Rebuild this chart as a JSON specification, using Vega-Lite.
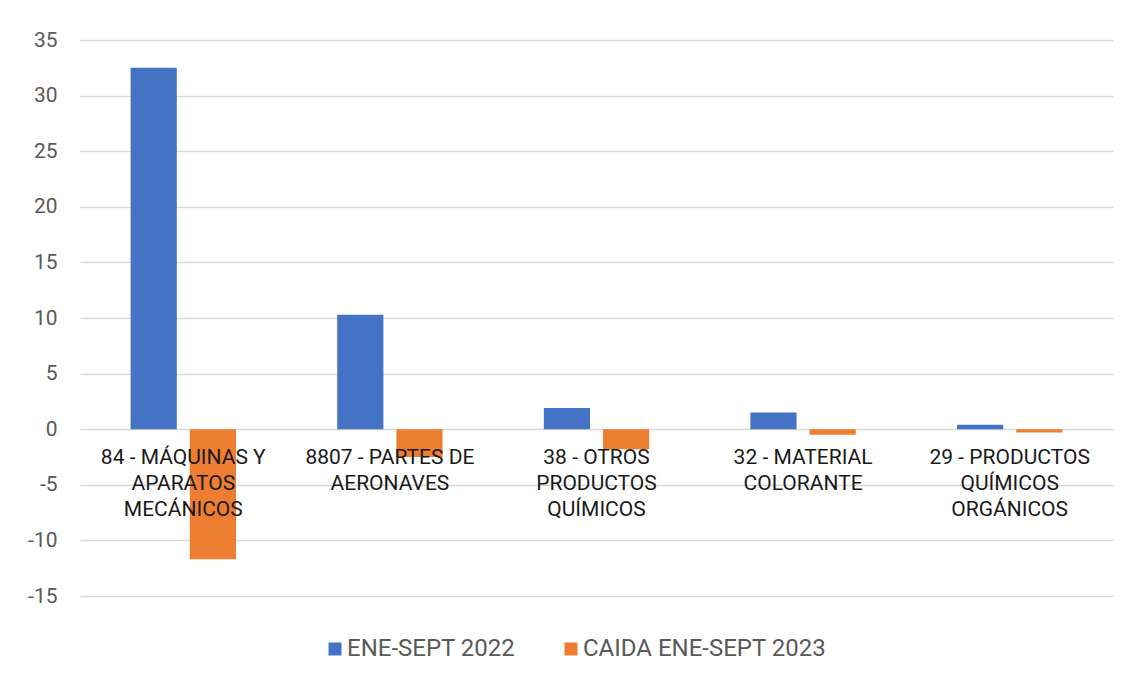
{
  "$schema": "https://vega.github.io/schema/vega-lite/v6.json",
  "width": 1033,
  "height": 556,
  "autosize": {"type": "none"},
  "padding": {"left": 80, "top": 40, "right": 18, "bottom": 81},
  "background": "white",
  "config": {"view": {"stroke": null}, "font": "Roboto"},
  "datasets": {
    "bars": [
      {"categoria": "84", "serie": "ENE-SEPT 2022", "valor": 32.5},
      {"categoria": "84", "serie": "CAIDA ENE-SEPT 2023", "valor": -11.7},
      {"categoria": "8807", "serie": "ENE-SEPT 2022", "valor": 10.3},
      {"categoria": "8807", "serie": "CAIDA ENE-SEPT 2023", "valor": -2.5},
      {"categoria": "38", "serie": "ENE-SEPT 2022", "valor": 1.9},
      {"categoria": "38", "serie": "CAIDA ENE-SEPT 2023", "valor": -1.8},
      {"categoria": "32", "serie": "ENE-SEPT 2022", "valor": 1.5},
      {"categoria": "32", "serie": "CAIDA ENE-SEPT 2023", "valor": -0.5},
      {"categoria": "29", "serie": "ENE-SEPT 2022", "valor": 0.4},
      {"categoria": "29", "serie": "CAIDA ENE-SEPT 2023", "valor": -0.3}
    ],
    "labels": [
      {"categoria": "84", "etiqueta": "84 - MÁQUINAS Y\nAPARATOS\nMECÁNICOS"},
      {"categoria": "8807", "etiqueta": "8807 - PARTES DE\nAERONAVES"},
      {"categoria": "38", "etiqueta": "38 - OTROS\nPRODUCTOS\nQUÍMICOS"},
      {"categoria": "32", "etiqueta": "32 - MATERIAL\nCOLORANTE"},
      {"categoria": "29", "etiqueta": "29 - PRODUCTOS\nQUÍMICOS\nORGÁNICOS"}
    ]
  },
  "layer": [
    {
      "data": {"name": "bars"},
      "mark": {"type": "bar"},
      "encoding": {
        "x": {
          "field": "categoria", "type": "nominal", "sort": ["84", "8807", "38", "32", "29"],
          "axis": null,
          "scale": {"paddingInner": 0.49, "paddingOuter": 0.245}
        },
        "xOffset": {
          "field": "serie", "type": "nominal", "sort": ["ENE-SEPT 2022", "CAIDA ENE-SEPT 2023"],
          "scale": {"paddingInner": 0.22, "paddingOuter": 0}
        },
        "y": {
          "field": "valor", "type": "quantitative",
          "scale": {"domain": [-15, 35], "nice": false},
          "axis": {
            "title": null, "values": [-15, -10, -5, 0, 5, 10, 15, 20, 25, 30, 35],
            "labelExpr": "replace(datum.label, '−', '-')",
            "grid": true, "gridColor": "#d9d9d9", "gridWidth": 1.5,
            "domain": false, "ticks": false,
            "labelFontSize": 21, "labelColor": "#595959", "labelPadding": 23
          }
        },
        "color": {
          "field": "serie", "type": "nominal",
          "scale": {"domain": ["ENE-SEPT 2022", "CAIDA ENE-SEPT 2023"], "range": ["#4472C4", "#ED7D31"]},
          "legend": {
            "title": null, "orient": "none", "direction": "horizontal",
            "legendX": 243, "legendY": 597,
            "symbolType": "square", "symbolSize": 169, "symbolStrokeWidth": 0,
            "labelFontSize": 24, "labelColor": "#595959", "labelOffset": 0,
            "labelLimit": 400, "columnPadding": 43
          }
        }
      }
    },
    {
      "data": {"name": "labels"},
      "mark": {"type": "text", "lineBreak": "\n", "baseline": "top", "dy": 18, "lineHeight": 26, "fontSize": 21, "color": "#1a1a1a"},
      "encoding": {
        "x": {"field": "categoria", "type": "nominal", "sort": ["84", "8807", "38", "32", "29"]},
        "y": {"datum": 0, "type": "quantitative"},
        "text": {"field": "etiqueta"}
      }
    }
  ]
}
